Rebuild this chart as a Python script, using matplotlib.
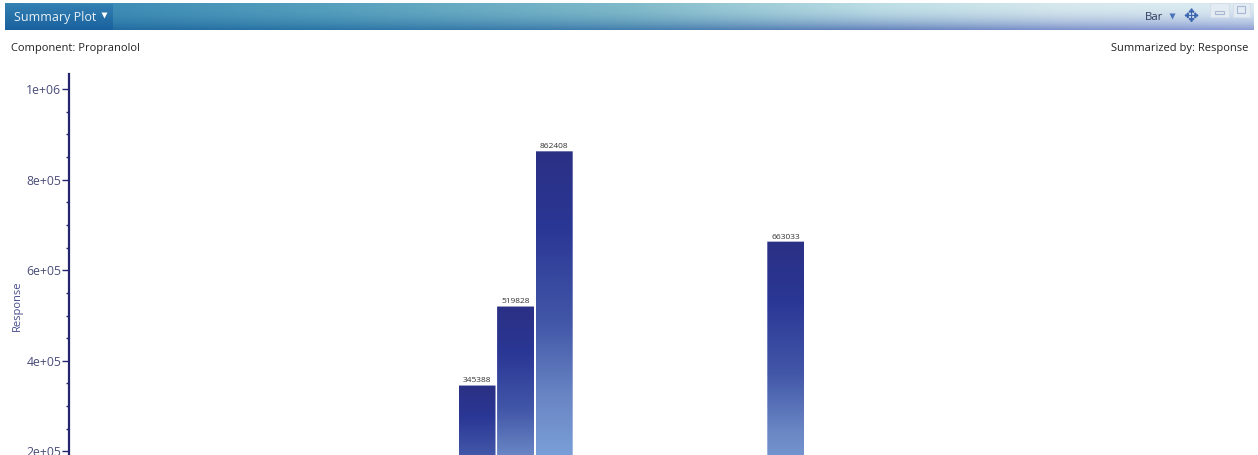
import numpy as np
import matplotlib
matplotlib.use("Agg")
import matplotlib.pyplot as plt
from matplotlib.colors import LinearSegmentedColormap
from matplotlib.patches import FancyBboxPatch, Rectangle
from matplotlib.ticker import MultipleLocator

# values
positions = [0, 1, 2, 8]
responses = [345388, 519828, 862408, 663033]
y_ticks = [200000, 400000, 600000, 800000, 1000000]
y_tick_labels = ["2e+05", "4e+05", "6e+05", "8e+05", "1e+06"]

W, H = 1258, 455
plt.rcParams["font.family"] = ["Open Sans", "DejaVu Sans"]

fig = plt.figure(figsize=(W / 100, H / 100), dpi=100, facecolor="white")

# overlay in pixel coords for the window chrome
chrome = fig.add_axes([0, 0, 1, 1])
chrome.axis("off")

# header band, colour goes left to right and turns blue only near the bottom edge
top_cols = np.array([[0.20, 0.52, 0.70], [0.33, 0.62, 0.74], [0.50, 0.73, 0.79],
                     [0.74, 0.87, 0.90], [0.84, 0.91, 0.93], [0.86, 0.92, 0.95]])
bot_cols = np.array([[0.12, 0.40, 0.62], [0.17, 0.46, 0.65], [0.27, 0.50, 0.68],
                     [0.40, 0.52, 0.74], [0.50, 0.58, 0.80], [0.55, 0.62, 0.83]])
stops = np.array([0, 0.25, 0.5, 0.7, 0.85, 1.0])
xs = np.linspace(0, 1, 300)
ts = (np.linspace(0, 1, 30) ** 2.2)[:, None, None]
top = np.stack([np.interp(xs, stops, top_cols[:, i]) for i in range(3)], axis=1)
bot = np.stack([np.interp(xs, stops, bot_cols[:, i]) for i in range(3)], axis=1)
chrome.imshow(top[None, :, :] * (1 - ts) + bot[None, :, :] * ts,
              extent=[5, 1254, 30, 3], aspect="auto", zorder=1)

# dropdown button on the left of the header
btn = np.linspace(0, 1, 30)[:, None, None] * (np.array([0.10, 0.38, 0.62]) - np.array([0.20, 0.50, 0.70])) + np.array([0.20, 0.50, 0.70])
chrome.imshow(btn, extent=[5, 113, 30, 4], aspect="auto", zorder=2)
chrome.set_xlim(0, W)
chrome.set_ylim(H, 0)
chrome.text(14, 18, "Summary Plot", color="#e8f2f8", fontsize=9, va="center", ha="left", zorder=3)
chrome.plot([103.5], [15], marker="v", ms=4, color="white", mec="none", zorder=3)

chrome.text(1145, 18, "Bar", color="#2c3a5c", fontsize=8.2, va="center", ha="left", zorder=3)
chrome.plot([1172], [16], marker="v", ms=5, color="#4a72b8", mec="none", zorder=3)
chrome.text(1191, 16.5, "\u2725", color="#3a64ae", fontsize=13, va="center", ha="center",
            family="DejaVu Sans", zorder=3)
for bx, bw in [(1210, 19), (1233, 17)]:
    chrome.add_patch(Rectangle((bx, 3), bw, 14, fc="#e3ebf3", ec="#d5deea", lw=0.8, zorder=3))
chrome.add_patch(Rectangle((1215, 11), 9, 3, fc="none", ec="#a9b8d2", lw=0.8, zorder=4))
chrome.add_patch(Rectangle((1237, 6), 8, 7, fc="none", ec="#a9b8d2", lw=0.8, zorder=4))

chrome.text(11, 48.5, "Component: Propranolol", color="#222222", fontsize=8, va="center", ha="left")
chrome.text(1248, 48.5, "Summarized by: Response", color="#222222", fontsize=8, va="center", ha="right")
chrome.text(17, 306, "Response", color="#474c8c", fontsize=8, rotation=90, va="center", ha="center")

# chart axes, the bottom of the chart is cut off by the picture
ax = fig.add_axes([69 / W, 0, (W - 69) / W, (H - 74) / H])
ax.patch.set_alpha(0)
px_per_unit = 90.6 / 200000
val_bottom = 1000000 - (H - 89) / px_per_unit
val_top = 1000000 + (89 - 74) / px_per_unit
px_x = 38.6
x_lim = ((69 - 477) / px_x, (W - 477) / px_x)

for s in ["top", "right", "bottom"]:
    ax.spines[s].set_visible(False)
ax.spines["left"].set_color("#24246f")
ax.spines["left"].set_linewidth(1.6)
ax.set_xticks([])
ax.set_yticks(y_ticks)
ax.set_yticklabels(y_tick_labels)
ax.yaxis.set_minor_locator(MultipleLocator(50000))
ax.tick_params(axis="y", which="major", length=5, width=1, color="#24246f",
               labelcolor="#4a4d78", labelsize=8.8, pad=0.5)
ax.tick_params(axis="y", which="minor", length=2.5, width=1, color="#24246f")

grad = LinearSegmentedColormap.from_list(
    "bars", [(0, "#2a3084"), (0.2, "#2b3795"), (0.44, "#4257a8"), (0.63, "#6a86c4"), (0.78, "#7a9fd8"), (1, "#80a6dc")])
bar_w = 37 / px_x
aspect = (1 / px_per_unit) / px_x  # data y per data x, keeps corners round

for pos, val in zip(positions, responses):
    left = pos - bar_w / 2
    im = ax.imshow(np.linspace(0, 1, 256)[:, None], cmap=grad, vmin=0, vmax=1,
                   extent=[left, left + bar_w, 0, val],
                   origin="upper", aspect="auto", zorder=2, interpolation="bilinear")
    box = FancyBboxPatch((left, 0), bar_w, val, boxstyle="round,pad=0,rounding_size=0.07",
                         mutation_aspect=aspect, fc="none", ec="none", transform=ax.transData)
    ax.add_patch(box)
    im.set_clip_path(box)
    ax.text(pos, val + 2500, str(val), ha="center", va="bottom", fontsize=6,
            color="#333333", zorder=3)

ax.set_xlim(x_lim)
ax.set_ylim(val_bottom, val_top)

fig.savefig("out.png", dpi=100)
